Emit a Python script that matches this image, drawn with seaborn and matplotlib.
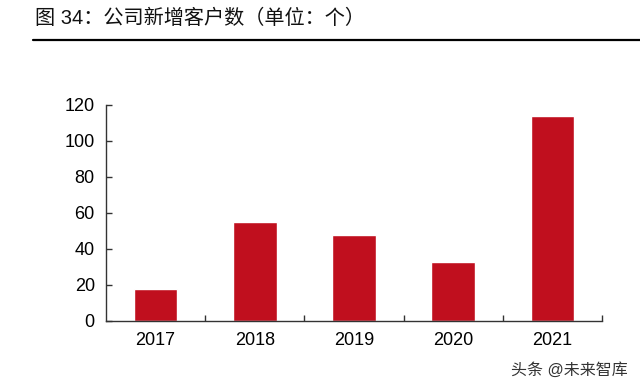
import matplotlib
matplotlib.use("Agg")
import matplotlib.pyplot as plt
import seaborn as sns
import pandas as pd
from matplotlib.ticker import FixedLocator

# data
years = ["2017", "2018", "2019", "2020", "2021"]
new_clients = [18, 55, 48, 33, 114]

title = "图 34：公司新增客户数（单位：个）"
watermark = "头条 @未来智库"

df = pd.DataFrame({"year": years, "clients": new_clients})

sns.set_theme(style="white")
plt.rcParams["font.family"] = ["Liberation Sans", "Noto Sans CJK SC", "DejaVu Sans"]

fig = plt.figure(figsize=(6.4, 3.88), dpi=100)
ax = fig.add_axes([0.1656, 0.1727, 0.775, 0.5567])

sns.barplot(data=df, x="year", y="clients", color="#C00F1E", width=0.44,
            saturation=1, ax=ax)

ax.set_xlim(-0.5, len(years) - 0.5)
ax.set_ylim(0, 120)
ax.set_yticks(range(0, 121, 20))
ax.set_xlabel("")
ax.set_ylabel("")

for s in ["top", "right"]:
    ax.spines[s].set_visible(False)
for s in ["left", "bottom"]:
    ax.spines[s].set_color("#333333")
    ax.spines[s].set_linewidth(1.0)

ax.tick_params(axis="y", direction="in", length=4, width=1, color="#333333",
               labelsize=13, labelcolor="black", pad=8, left=True)
ax.tick_params(axis="x", which="major", length=0, labelsize=13,
               labelcolor="black", pad=8)
ax.xaxis.set_minor_locator(FixedLocator([i + 0.5 for i in range(len(years))]))
ax.tick_params(axis="x", which="minor", direction="in", length=4, width=1,
               color="#333333", bottom=True)

fig.text(35 / 640, 1 - 18 / 388, title, fontsize=14.5, va="center", ha="left",
         color="#111111")
fig.add_artist(plt.Line2D([33 / 640, 1.0], [1 - 40 / 388, 1 - 40 / 388],
                          color="black", linewidth=1.6))
fig.text(628 / 640, 1 - 370 / 388, watermark, fontsize=11.5, va="center",
         ha="right", color="#333333")

fig.savefig("out.png", dpi=100)
